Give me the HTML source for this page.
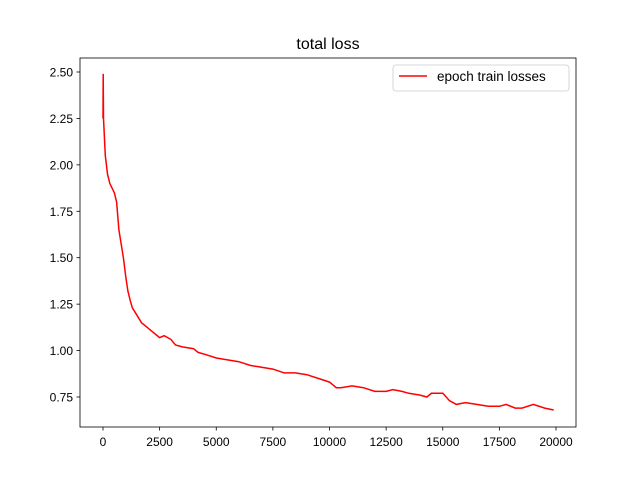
<!DOCTYPE html>
<html><head><meta charset="utf-8"><style>
body{margin:0;background:#fff;}
svg{display:block;font-family:"Liberation Sans","DejaVu Sans",sans-serif;}
</style></head><body>
<svg id="chart" width="640" height="480" viewBox="0 0 640 480">
<rect width="640" height="480" fill="#fff"/>
<text x="328" y="49" text-anchor="middle" font-size="16">total loss</text>
<g id="xticks"></g><g id="yticks"></g>
<path id="line" fill="none" stroke="#ff0000" stroke-width="1.5"/>
<rect x="80" y="58" width="496" height="369" fill="none" stroke="#000" stroke-width="0.8"/>
<g>
<rect x="393" y="65" width="176" height="26" rx="3" fill="#fff" stroke="#ccc" stroke-width="0.8"/>
<line x1="399" y1="76" x2="427" y2="76" stroke="#ff0000" stroke-width="1.5"/>
<text x="437" y="81" font-size="13.5">epoch train losses</text>
</g>
</svg>
<script>
const steps=[0,10,20,100,200,300,500,600,700,900,1000,1100,1200,1300,1500,1700,2000,2300,2500,2700,3000,3200,3500,4000,4200,4500,5000,5500,6000,6500,7000,7500,8000,8500,9000,9500,10000,10300,10500,11000,11500,12000,12500,12800,13200,13500,14000,14300,14500,15000,15300,15600,16000,16500,17000,17500,17800,18200,18500,19000,19500,19900];
const losses=[2.25,2.49,2.25,2.05,1.95,1.90,1.85,1.80,1.65,1.50,1.40,1.32,1.27,1.23,1.19,1.15,1.12,1.09,1.07,1.08,1.06,1.03,1.02,1.01,0.99,0.98,0.96,0.95,0.94,0.92,0.91,0.90,0.88,0.88,0.87,0.85,0.83,0.80,0.80,0.81,0.80,0.78,0.78,0.79,0.78,0.77,0.76,0.75,0.77,0.77,0.73,0.71,0.72,0.71,0.70,0.70,0.71,0.69,0.69,0.71,0.69,0.68];
const xTicks=[0,2500,5000,7500,10000,12500,15000,17500,20000];
const yTicks=[0.75,1.00,1.25,1.50,1.75,2.00,2.25,2.50];
const sx=v=>103+v*(453/20000);
const sy=v=>397-(v-0.75)*(325/1.75);
const NS="http://www.w3.org/2000/svg";
const xg=document.getElementById('xticks'),yg=document.getElementById('yticks');
xTicks.forEach(t=>{
 const l=document.createElementNS(NS,'line');
 l.setAttribute('x1',sx(t));l.setAttribute('x2',sx(t));l.setAttribute('y1',427);l.setAttribute('y2',430.5);l.setAttribute('stroke','#000');l.setAttribute('stroke-width','0.8');
 
 
 xg.appendChild(l);
 const tx=document.createElementNS(NS,'text');
 tx.setAttribute('x',sx(t));tx.setAttribute('y',446);tx.setAttribute('text-anchor','middle');tx.setAttribute('font-size','12');
 tx.textContent=t;
 
 
 xg.appendChild(tx);
});
yTicks.forEach(t=>{
 const l=document.createElementNS(NS,'line');
 l.setAttribute('x1',76.5);l.setAttribute('x2',80);l.setAttribute('y1',sy(t));l.setAttribute('y2',sy(t));l.setAttribute('stroke','#000');l.setAttribute('stroke-width','0.8');
 
 
 yg.appendChild(l);
 const tx=document.createElementNS(NS,'text');
 tx.setAttribute('x',73);tx.setAttribute('y',sy(t)+4.5);tx.setAttribute('text-anchor','end');tx.setAttribute('font-size','12');
 tx.textContent=t.toFixed(2);
 
 
 yg.appendChild(tx);
});
document.getElementById('line').setAttribute('d',steps.map((s,i)=>(i?'L':'M')+sx(s).toFixed(1)+','+sy(losses[i]).toFixed(1)).join(''));
</script>
</body></html>
